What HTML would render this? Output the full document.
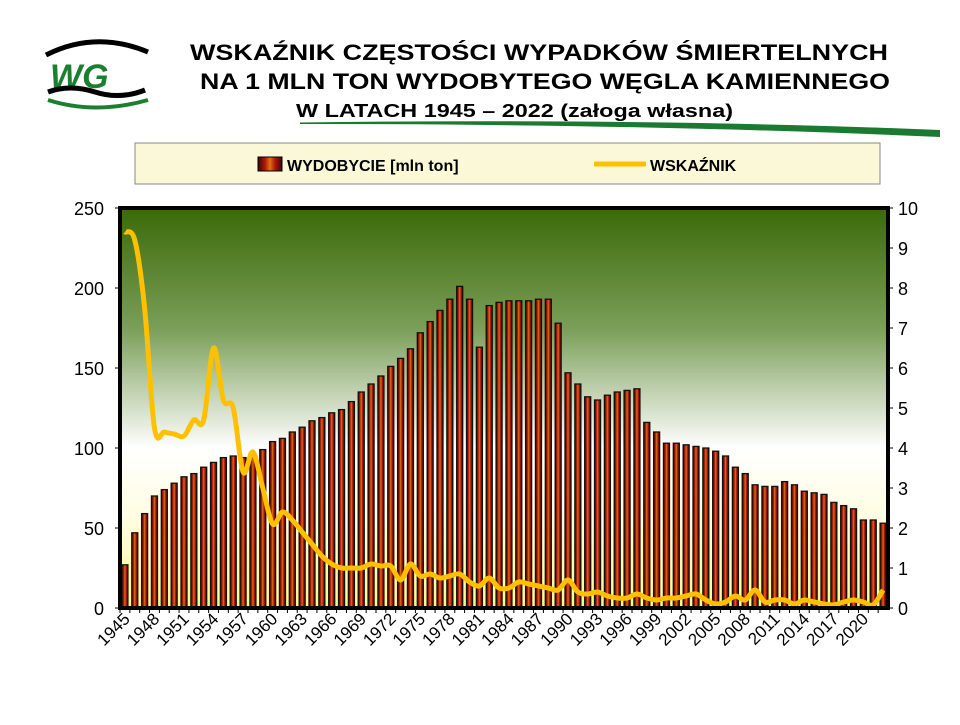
<!DOCTYPE html>
<html><head><meta charset="utf-8"><style>
body{margin:0;background:#fff;width:960px;height:720px;overflow:hidden;font-family:"Liberation Sans",Arial,sans-serif}
svg text{font-family:"Liberation Sans",Arial,sans-serif}
</style></head><body>
<svg id="c" width="960" height="720" xmlns="http://www.w3.org/2000/svg">
<defs>
<linearGradient id="bg" x1="0" y1="0" x2="0" y2="1">
<stop offset="0" stop-color="#3a6a08"/><stop offset="0.3" stop-color="#7a9e58"/><stop offset="0.6" stop-color="#ffffff"/><stop offset="0.78" stop-color="#fffde0"/><stop offset="1" stop-color="#fbf98a"/>
</linearGradient>
<linearGradient id="bar" x1="0" y1="0" x2="1" y2="0">
<stop offset="0" stop-color="#3a0603"/><stop offset="0.3" stop-color="#b01a0a"/><stop offset="0.5" stop-color="#e07010"/><stop offset="0.7" stop-color="#b01a0a"/><stop offset="1" stop-color="#3a0603"/>
</linearGradient>
</defs>
<g>
<path d="M46 55 Q95 30 148 52" stroke="#000" stroke-width="5" fill="none"/>
<text x="50" y="88" font-size="34" font-weight="bold" fill="#1a8030" font-style="italic">WG</text>
<path d="M48 92 Q70 84 95 92 T145 90" stroke="#000" stroke-width="5" fill="none"/>
<path d="M48 100 Q95 115 148 100" stroke="#1a8030" stroke-width="4" fill="none"/>
</g>
<text x="190" y="60" textLength="698" lengthAdjust="spacingAndGlyphs" font-size="22" font-weight="bold">WSKAŹNIK CZĘSTOŚCI WYPADKÓW ŚMIERTELNYCH</text>
<text x="200" y="89" textLength="690" lengthAdjust="spacingAndGlyphs" font-size="22" font-weight="bold">NA 1 MLN TON WYDOBYTEGO WĘGLA KAMIENNEGO</text>
<text x="296" y="117" textLength="437" lengthAdjust="spacingAndGlyphs" font-size="18" font-weight="bold">W LATACH  1945 – 2022  (załoga własna)</text>
<path d="M300 122.5 Q650 118 940 130 L940 137 Q650 124 300 124 Z" fill="#1a7a30"/>
<g>
<rect x="135" y="143" width="745" height="41" fill="#fbf8d8" stroke="#888" stroke-width="1"/>
<rect x="258" y="157" width="24" height="14" fill="url(#bar)" stroke="#000"/>
<text x="287" y="171" font-size="16" font-weight="bold">WYDOBYCIE [mln ton]</text>
<line x1="594" y1="164" x2="646" y2="164" stroke="#ffc000" stroke-width="5"/>
<text x="650" y="171" font-size="16" font-weight="bold">WSKAŹNIK</text>
</g>
<rect x="120" y="208" width="768" height="400" fill="url(#bg)"/>
<g id="bars"></g><g id="axes"></g><path id="line" fill="none" stroke="#ffc000" stroke-width="5" stroke-linejoin="round"/>
<rect x="120" y="208" width="768" height="400" fill="none" stroke="#000" stroke-width="4"/>
</svg>
<script>
const years=[];for(let y=1945;y<=2022;y++)years.push(y);
const production=[27,47,59,70,74,78,82,84,88,91,94,95,94,95,99,104,106,110,113,117,119,122,124,129,135,140,145,151,156,162,172,179,186,193,201,193,163,189,191,192,192,192,193,193,178,147,140,132,130,133,135,136,137,116,110,103,103,102,101,100,98,95,88,84,77,76,76,79,77,73,72,71,66,64,62,55,55,53];
const indicator=[9.4,9.2,7.5,4.5,4.4,4.35,4.3,4.7,4.7,6.5,5.2,5.0,3.4,3.9,3.0,2.1,2.4,2.2,1.9,1.6,1.3,1.1,1.0,1.0,1.0,1.1,1.05,1.05,0.7,1.1,0.8,0.85,0.75,0.8,0.85,0.65,0.55,0.75,0.5,0.5,0.65,0.6,0.55,0.5,0.45,0.7,0.4,0.35,0.4,0.3,0.25,0.25,0.35,0.25,0.2,0.25,0.25,0.3,0.35,0.2,0.1,0.15,0.3,0.2,0.45,0.15,0.2,0.2,0.1,0.2,0.15,0.1,0.08,0.15,0.2,0.15,0.08,0.45];
const leftTicks=[0,50,100,150,200,250];
const rightTicks=[0,1,2,3,4,5,6,7,8,9,10];
const NS="http://www.w3.org/2000/svg";
const X0=120,W=768,Y0=608,H=400,step=W/years.length;
const xc=i=>X0+(i+0.5)*step;
const yL=v=>Y0-v/250*H;
const yR=v=>Y0-v/10*H;
function mk(t,a,p){const e=document.createElementNS(NS,t);for(const k in a)e.setAttribute(k,a[k]);p.appendChild(e);return e;}
const bars=document.getElementById('bars'),axes=document.getElementById('axes');
production.forEach((v,i)=>{
 const r=mk('rect',{x:xc(i)-3,y:yL(v),width:6,height:Y0-yL(v),fill:'url(#bar)',stroke:'#111','stroke-width':1.3},bars);
 
 
});
leftTicks.forEach(t=>{
 mk('line',{x1:115,x2:120,y1:yL(t),y2:yL(t),stroke:'#000'},axes);
 const tx=mk('text',{x:104,y:yL(t)+7,'text-anchor':'end','font-size':18},axes);tx.textContent=t;
 
 
});
rightTicks.forEach(t=>{
 mk('line',{x1:888,x2:893,y1:yR(t),y2:yR(t),stroke:'#000'},axes);
 const tx=mk('text',{x:898,y:yR(t)+7,'font-size':18},axes);tx.textContent=t;
 
 
});
years.forEach((y,i)=>{
 mk('line',{x1:X0+i*step,x2:X0+i*step,y1:608,y2:613,stroke:'#000'},axes);
 if((y-1945)%3===0){
  const x=xc(i)+6,yy=620;
  const tx=mk('text',{x:x,y:yy,'text-anchor':'end','font-size':17,transform:`rotate(-45 ${x} ${yy})`},axes);
  tx.textContent=y;
  
  
 }
});
const pts=indicator.map((v,i)=>[xc(i),yR(v)]);
let d='M'+pts[0][0]+','+pts[0][1];
for(let i=0;i<pts.length-1;i++){
 const p0=pts[i-1]||pts[i],p1=pts[i],p2=pts[i+1],p3=pts[i+2]||p2;
 const c1=[p1[0]+(p2[0]-p0[0])/6,p1[1]+(p2[1]-p0[1])/6],c2=[p2[0]-(p3[0]-p1[0])/6,p2[1]-(p3[1]-p1[1])/6];
 d+=`C${c1[0]},${c1[1]} ${c2[0]},${c2[1]} ${p2[0]},${p2[1]}`;
}
document.getElementById('line').setAttribute('d',d);
</script>
</body></html>
